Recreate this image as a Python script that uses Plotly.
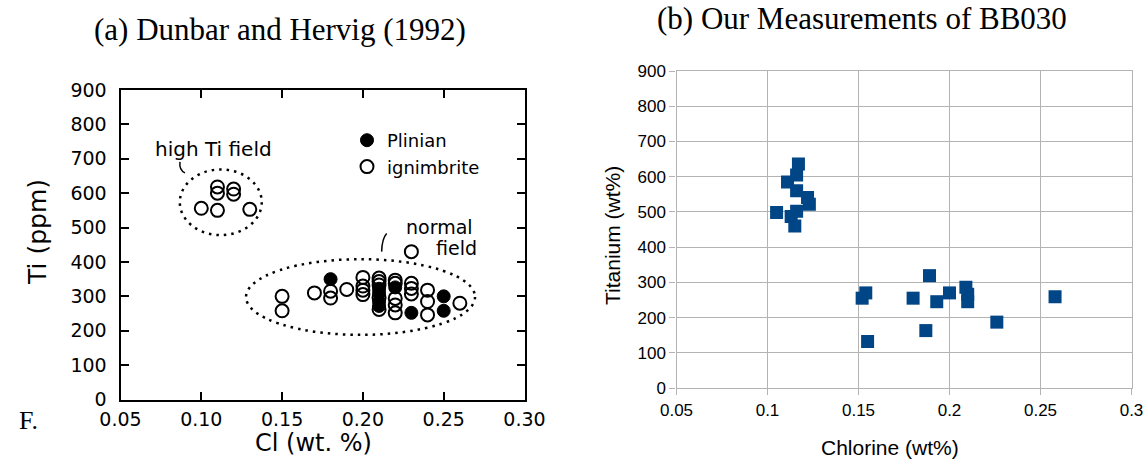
import plotly.graph_objects as go

# ---------------- data: (a) Dunbar and Hervig (1992) ----------------
plinian_cl = [0.18, 0.21, 0.21, 0.21, 0.21, 0.22, 0.23, 0.25, 0.25]
plinian_ti = [350, 322, 310, 285, 272, 326, 252, 300, 258]

ign_cl = [0.10, 0.11, 0.11, 0.11, 0.12, 0.12, 0.13,
          0.15, 0.15, 0.17, 0.18, 0.18, 0.19,
          0.20, 0.20, 0.20, 0.20,
          0.21, 0.21, 0.21, 0.21, 0.21,
          0.22, 0.22, 0.22, 0.22, 0.22,
          0.23, 0.23, 0.23, 0.23,
          0.24, 0.24, 0.24, 0.26]
ign_ti = [556, 550, 600, 618, 597, 612, 553,
          300, 258, 310, 315, 295, 320,
          355, 330, 318, 305,
          353, 343, 333, 296, 262,
          347, 338, 294, 275, 252,
          430, 338, 323, 307,
          318, 285, 246, 280]

# ---------------- data: (b) Our Measurements of BB030 ----------------
bb_cl = [0.105, 0.117, 0.116, 0.111, 0.116, 0.122, 0.123, 0.116, 0.113, 0.115,
         0.152, 0.154, 0.155, 0.180, 0.189, 0.187, 0.193, 0.200, 0.209, 0.210,
         0.210, 0.226, 0.258]
bb_ti = [498, 636, 605, 585, 560, 541, 522, 502, 487, 460,
         255, 270, 132, 255, 319, 163, 245, 270, 286, 266,
         245, 187, 259]

x_ticks_left = [0.05, 0.10, 0.15, 0.20, 0.25, 0.30]
y_ticks = [0, 100, 200, 300, 400, 500, 600, 700, 800, 900]

W, H = 1148, 460
SANS_OLD = "DejaVu Sans"
SANS = "Liberation Sans, Arial, sans-serif"
SERIF = "Liberation Serif, Times New Roman, serif"

fig = go.Figure()

fig.add_trace(go.Scatter(
    x=ign_cl, y=ign_ti, mode="markers", name="ignimbrite",
    marker=dict(symbol="circle-open", size=13, color="black", line=dict(width=2, color="black")),
    xaxis="x", yaxis="y"))
fig.add_trace(go.Scatter(
    x=plinian_cl, y=plinian_ti, mode="markers", name="Plinian",
    marker=dict(symbol="circle", size=13, color="black", line=dict(width=1, color="black")),
    xaxis="x", yaxis="y"))
fig.add_trace(go.Scatter(
    x=bb_cl, y=bb_ti, mode="markers", showlegend=False,
    marker=dict(symbol="square", size=13, color="#004586"),
    xaxis="x2", yaxis="y2"))

left_dom_x = [120.5 / W, 524.5 / W]
left_dom_y = [(H - 399.5) / H, (H - 90) / H]
right_dom_x = [676.5 / W, 1131.5 / W]
right_dom_y = [(H - 388) / H, (H - 71) / H]

fig.update_layout(
    width=W, height=H,
    margin=dict(l=0, r=0, t=0, b=0, autoexpand=False),
    paper_bgcolor="white", plot_bgcolor="white",
    showlegend=True,
    legend=dict(x=347 / W, y=1 - 122 / H, xanchor="left", yanchor="top",
                font=dict(family=SANS_OLD, size=18, color="black"),
                bgcolor="rgba(0,0,0,0)", borderwidth=0, traceorder="reversed",
                itemwidth=30, tracegroupgap=0),
    xaxis=dict(domain=left_dom_x, range=[0.05, 0.30], tickvals=x_ticks_left,
               tickformat=".2f", showgrid=False, zeroline=False, automargin=False,
               showline=True, linecolor="black", linewidth=2, mirror="ticks",
               ticks="inside", ticklen=8, tickwidth=2, tickcolor="black",
               ticklabelstandoff=2,
               tickfont=dict(family=SANS_OLD, size=19, color="black"), anchor="y"),
    yaxis=dict(domain=left_dom_y, range=[0, 900], tickvals=y_ticks,
               showgrid=False, zeroline=False, automargin=False,
               showline=True, linecolor="black", linewidth=2, mirror="ticks",
               ticks="inside", ticklen=8, tickwidth=2, tickcolor="black",
               ticklabelstandoff=8,
               tickfont=dict(family=SANS_OLD, size=19, color="black"), anchor="x"),
    xaxis2=dict(domain=right_dom_x, range=[0.05, 0.30], dtick=0.05, tick0=0.05,
                showgrid=True, gridcolor="#b3b3b3", gridwidth=1.3, zeroline=False,
                automargin=False,
                showline=True, linecolor="#b3b3b3", linewidth=1.3, mirror=True,
                ticks="outside", ticklen=6, tickcolor="#b3b3b3", tickwidth=1.3,
                tickfont=dict(family=SANS, size=17, color="black"), anchor="y2"),
    yaxis2=dict(domain=right_dom_y, range=[0, 900], dtick=100,
                showgrid=True, gridcolor="#b3b3b3", gridwidth=1.3, zeroline=False,
                automargin=False,
                showline=True, linecolor="#b3b3b3", linewidth=1.3, mirror=True,
                ticks="outside", ticklen=6, tickcolor="#b3b3b3", tickwidth=1.3,
                tickfont=dict(family=SANS, size=17, color="black"), anchor="x2"),
)

# dotted ellipses and leader curves (left panel)
dot = dict(color="black", width=2.5, dash="2.5px,5px")
fig.add_shape(type="circle", xref="x", yref="y", x0=0.0867, x1=0.1374, y0=478, y1=669, line=dot)
fig.add_shape(type="circle", xref="x", yref="y", x0=0.1277, x1=0.2694, y0=188, y1=408, line=dot)
fig.add_shape(type="path", xref="x", yref="y",
              path="M 0.0868,691 Q 0.0862,667 0.0899,659", line=dict(color="black", width=1.5))
fig.add_shape(type="path", xref="x", yref="y",
              path="M 0.2147,483 Q 0.2118,468 0.2116,430", line=dict(color="black", width=1.5))

ann = []
def A(text, x, y, xref="paper", yref="paper", size=18, family=SANS_OLD, angle=0,
      xanchor="center", yanchor="middle"):
    ann.append(dict(text=text, x=x, y=y, xref=xref, yref=yref, showarrow=False,
                    font=dict(family=family, size=size, color="black"), textangle=angle,
                    xanchor=xanchor, yanchor=yanchor))

A("high Ti field", 0.1073, 729, "x", "y", size=20)
A("normal", 0.2477, 502, "x", "y", size=19)
A("field", 0.2582, 440, "x", "y", size=19)
A("Cl (wt. %)", 313 / W, 1 - 443 / H, size=24)
A("Ti (ppm)", 37 / W, 1 - 232 / H, size=25, angle=-90)
A("F.", 28 / W, 1 - 420 / H, size=26, family=SERIF)
A("(a) Dunbar and Hervig (1992)", 280 / W, 1 - 30 / H, size=31, family=SERIF)
A("(b) Our Measurements of BB030", 862 / W, 1 - 18 / H, size=31, family=SERIF)
A("Chlorine (wt%)", 890 / W, 1 - 447 / H, size=21, family=SANS)
A("Titanium (wt%)", 612 / W, 1 - 235 / H, size=21, family=SANS, angle=-90)
fig.update_layout(annotations=ann)

fig.write_html("out.html")
